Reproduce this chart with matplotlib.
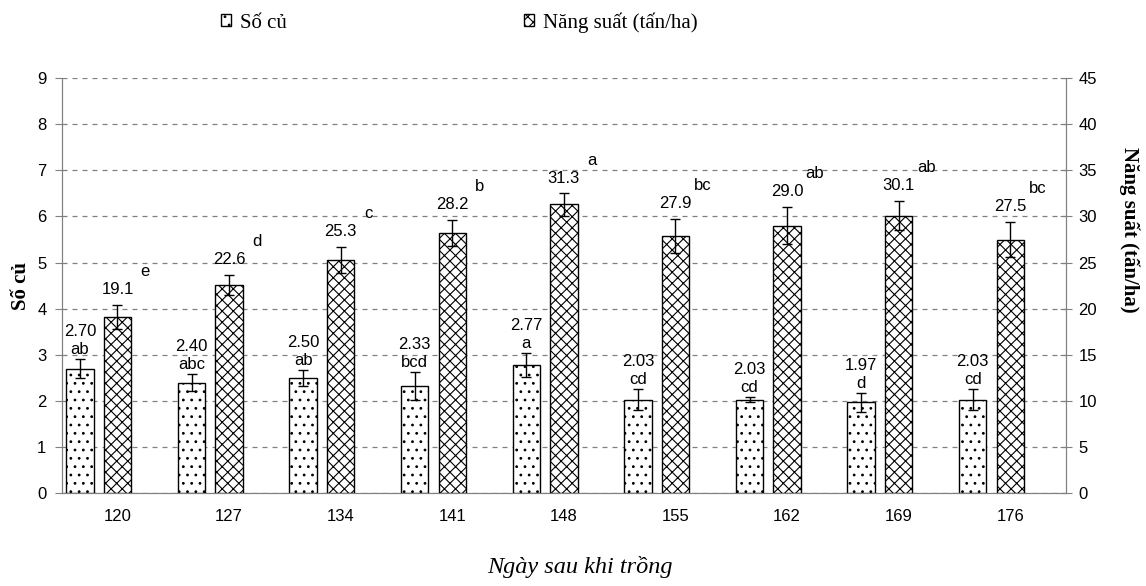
import numpy as np
import matplotlib.pyplot as plt

# ngay sau khi trong
days = ['120', '127', '134', '141', '148', '155', '162', '169', '176']

so_cu = [2.70, 2.40, 2.50, 2.33, 2.77, 2.03, 2.03, 1.97, 2.03]
so_cu_err = [0.20, 0.18, 0.17, 0.30, 0.26, 0.22, 0.05, 0.20, 0.22]
so_cu_let = ['ab', 'abc', 'ab', 'bcd', 'a', 'cd', 'cd', 'd', 'cd']

nang_suat = [19.1, 22.6, 25.3, 28.2, 31.3, 27.9, 29.0, 30.1, 27.5]
nang_suat_err = [1.35, 1.1, 1.4, 1.4, 1.2, 1.85, 2.0, 1.6, 1.95]
nang_suat_let = ['e', 'd', 'c', 'b', 'a', 'bc', 'ab', 'ab', 'bc']

sans = 'Liberation Sans'
serif = 'Liberation Serif'
plt.rcParams['font.family'] = sans
plt.rcParams['hatch.linewidth'] = 0.8

fig = plt.figure(figsize=(11.46, 5.86), dpi=100)
ax = fig.add_axes([0.0538, 0.1582, 0.8764, 0.7087])
ax2 = ax.twinx()

x = np.arange(len(days))
w = 0.245
off = 0.336

b1 = ax.bar(x - off, so_cu, w, color='white', edgecolor='black', lw=1,
            hatch='..', label='Số củ', zorder=3)
ax.errorbar(x - off, so_cu, yerr=so_cu_err, fmt='none', ecolor='black',
            elinewidth=1, capsize=3.5, capthick=1, zorder=4)
b2 = ax2.bar(x, nang_suat, w, color='white', edgecolor='black', lw=1,
             hatch='xxx', label='Năng suất (tấn/ha)', zorder=3)
ax2.errorbar(x, nang_suat, yerr=nang_suat_err, fmt='none', ecolor='black',
             elinewidth=1, capsize=3.5, capthick=1, zorder=4)

# data labels
for i in range(len(days)):
    top = so_cu[i] + so_cu_err[i]
    ax.annotate(so_cu_let[i], (x[i] - off, top), xytext=(0, 7),
                textcoords='offset points', ha='center', va='center', fontsize=12)
    ax.annotate('%.2f' % so_cu[i], (x[i] - off, top), xytext=(0, 20),
                textcoords='offset points', ha='center', va='center', fontsize=12)
    top2 = nang_suat[i] + nang_suat_err[i]
    ax2.annotate('%.1f' % nang_suat[i], (x[i], top2), xytext=(0, 11),
                 textcoords='offset points', ha='center', va='center', fontsize=12)
    ax2.annotate(nang_suat_let[i], (x[i], top2), xytext=(20, 24),
                 textcoords='offset points', ha='center', va='center', fontsize=12)

ax.set_xlim(-0.5, len(days) - 0.5)
ax.set_ylim(0, 9)
ax2.set_ylim(0, 45)
ax.set_yticks(np.arange(0, 10, 1))
ax2.set_yticks(np.arange(0, 50, 5))
ax.set_xticks(x)
ax.set_xticklabels(days)

ax.grid(axis='y', color='#808080', ls=(0, (4, 4)), lw=0.9, zorder=0)
ax.set_axisbelow(True)

for a in (ax, ax2):
    for s in a.spines.values():
        s.set_color('#808080')
    a.spines['top'].set_visible(False)
ax.tick_params(axis='x', length=0, pad=11, labelsize=12)
ax.tick_params(axis='y', direction='out', length=5, color='#808080', labelsize=12, pad=6)
ax2.tick_params(axis='y', direction='inout', length=8, color='#808080', labelsize=12, pad=5)

ax.set_ylabel('Số củ', fontfamily=serif, fontweight='bold', fontsize=15, labelpad=4)
fig.text(1129 / 1146, 1 - 230 / 586, 'Năng suất (tấn/ha)', fontfamily=serif,
         fontweight='bold', fontsize=15, rotation=-90, ha='center', va='center')
fig.text(0.506, 0.033, 'Ngày sau khi trồng', fontfamily=serif, style='italic',
         fontsize=17.5, ha='center', va='center')

fig.legend(handles=[b1, b2], loc='center left', bbox_to_anchor=(0.193, 0.962), ncol=2,
           frameon=False, prop={'family': serif, 'size': 15}, handlelength=0.45,
           handleheight=0.45, handletextpad=0.45, columnspacing=11.4, borderaxespad=0,
           borderpad=0)

fig.savefig('out.png', dpi=100)
